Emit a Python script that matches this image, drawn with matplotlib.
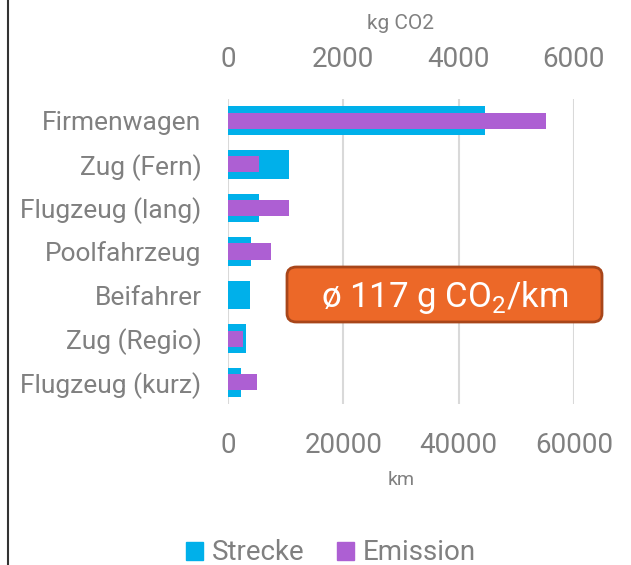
import matplotlib
matplotlib.use("Agg")
import matplotlib.pyplot as plt
from matplotlib.patches import FancyBboxPatch, Patch
from matplotlib.lines import Line2D

plt.rcParams["font.family"] = ["Roboto", "DejaVu Sans"]
plt.rcParams["mathtext.fontset"] = "custom"
plt.rcParams["mathtext.rm"] = "Roboto"

# Daten
kategorien = ["Firmenwagen", "Zug (Fern)", "Flugzeug (lang)", "Poolfahrzeug",
              "Beifahrer", "Zug (Regio)", "Flugzeug (kurz)"]
strecke_km = [44600, 10500, 5300, 4000, 3750, 3050, 2200]
emission_kg = [5510, 530, 1050, 750, 0, 265, 510]
km_ticks = [0, 20000, 40000, 60000]
kg_ticks = [0, 2000, 4000, 6000]

grau = "#808080"
cyan = "#00B0EA"
lila = "#AD5FD3"

fig = plt.figure(figsize=(6.31, 5.65), dpi=100)
ax = fig.add_axes([228 / 631, 1 - 404 / 565, 346 / 631, 305 / 565])
pos = list(range(len(kategorien)))

ax.barh(pos, strecke_km, height=0.66, color=cyan, zorder=2)
ax.set_xlim(0, 60000)
ax.set_ylim(len(kategorien) - 0.5, -0.5)
ax.set_xticks(km_ticks)
ax.set_xticklabels([str(t) for t in km_ticks])
ax.set_yticks(pos)
ax.set_yticklabels(kategorien)
ax.tick_params(axis="y", length=0, pad=19, labelsize=19, labelcolor=grau)
ax.tick_params(axis="x", length=0, pad=20, labelsize=20, labelcolor=grau)
ax.set_xlabel("km", fontsize=14, color=grau, labelpad=9)
ax.grid(axis="x", color="#D9D9D9", linewidth=1.5, zorder=0)
ax.set_axisbelow(True)
for s in ax.spines.values():
    s.set_visible(False)

# zweite Achse oben: kg CO2
ax2 = ax.twiny()
ax2.barh(pos, emission_kg, height=0.37, color=lila, zorder=3)
ax2.set_xlim(0, 6000)
ax2.set_xticks(kg_ticks)
ax2.set_xticklabels([str(t) for t in kg_ticks])
ax2.tick_params(axis="x", length=0, pad=19, labelsize=20, labelcolor=grau)
ax2.set_xlabel("kg CO2", fontsize=15, color=grau, labelpad=12)
for s in ax2.spines.values():
    s.set_visible(False)

# Kasten mit Durchschnitt
box = FancyBboxPatch((287 / 631, 1 - 322 / 565), 315 / 631, 55 / 565,
                     boxstyle="round,pad=0,rounding_size=0.015",
                     transform=fig.transFigure, facecolor="#EC6828",
                     edgecolor="#A8461A", linewidth=2, zorder=5)
fig.patches.append(box)
fig.text(445 / 631, 1 - 297 / 565, r"ø 117 g CO$_\mathrm{2}$/km", color="white",
         fontsize=25, ha="center", va="center", zorder=6)

# Rahmenlinie links
fig.add_artist(Line2D([8 / 631, 8 / 631], [0, 1], transform=fig.transFigure,
                      color="#333333", linewidth=1.5))

handles = [Patch(color=cyan, label="Strecke"), Patch(color=lila, label="Emission")]
fig.legend(handles=handles, loc="center", bbox_to_anchor=(331 / 631, 1 - 553 / 565),
           ncol=2, frameon=False, fontsize=20, labelcolor=grau,
           handlelength=0.6, handleheight=0.6, handletextpad=0.3, columnspacing=1.2)

fig.savefig("out.png", dpi=100)
